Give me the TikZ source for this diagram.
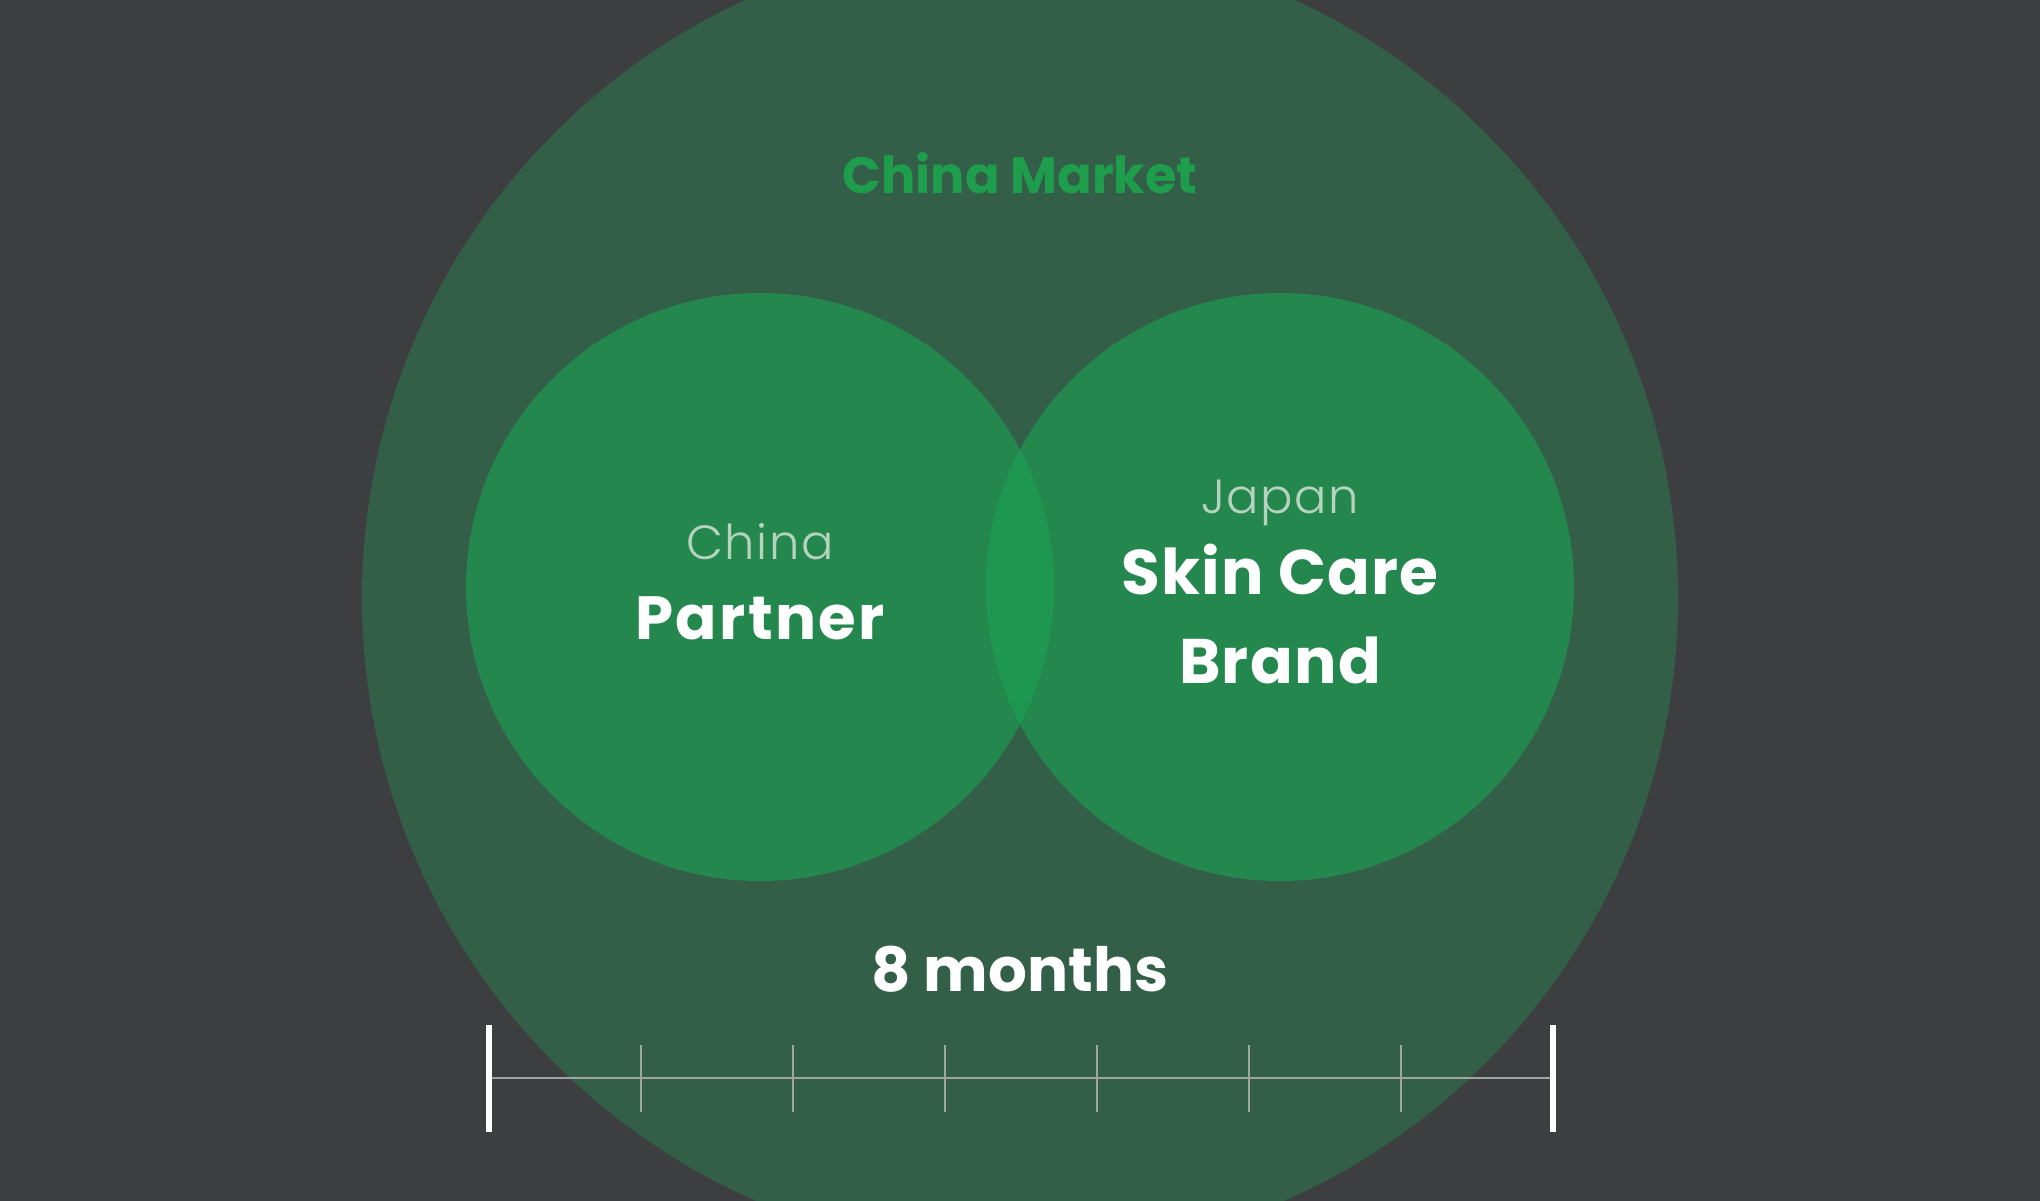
\documentclass[tikz,border=0pt]{standalone}
\usepackage{fontspec}
\setmainfont{Poppins}
\IfFontExistsTF{Poppins Light}{\newfontfamily\lightfont[LetterSpace=3]{Poppins Light}}{\newfontfamily\lightfont[LetterSpace=3]{Poppins}}
\definecolor{bg}{HTML}{3D3E40}
\definecolor{market}{HTML}{335E48}
\definecolor{inner}{HTML}{24874E}
\definecolor{overlap}{HTML}{1E9850}
\definecolor{markettext}{HTML}{1E9E4D}
\definecolor{subtext}{HTML}{B5D3BD}
\definecolor{axis}{HTML}{A0A4A2}
\tikzset{
  x=1pt, y=-1pt,
  boldlbl/.style={font=\fontsize{61}{70}\selectfont\bfseries, text=white, inner sep=0pt, anchor=base},
  lightlbl/.style={font=\lightfont\fontsize{48}{56}\selectfont, text=subtext, inner sep=0pt, anchor=base},
  ticksmall/.style={draw=axis, line width=2pt},
  tickend/.style={draw=white, line width=6pt},
}
\begin{document}
\begin{tikzpicture}
\useasboundingbox (0,0) rectangle (2040,1200);
\fill[bg] (-10,-10) rectangle (2050,1210);
\fill[market] (1020,598) circle[radius=658];
\coordinate (lc) at (760,587);
\coordinate (rc) at (1280,587);
\fill[inner] (lc) circle[radius=294];
\fill[inner] (rc) circle[radius=294];
\begin{scope}
\clip (lc) circle[radius=294];
\fill[overlap] (rc) circle[radius=294];
\end{scope}
\node[font=\fontsize{51}{60}\selectfont\bfseries, text=markettext, inner sep=0pt, anchor=base] (title) at (1020,193) {China Market};
\node[lightlbl] (china) at (760,559) {China};
\node[boldlbl, font=\fontsize{61}{70}\selectfont\bfseries\addfontfeatures{LetterSpace=4}] (partner) at (760,639) {Partner};
\node[lightlbl] (japan) at (1280,513) {Japan};
\node[boldlbl, font=\fontsize{63}{70}\selectfont\bfseries\addfontfeatures{LetterSpace=2}] (skin) at (1280,594) {Skin Care};
\node[boldlbl, font=\fontsize{63}{70}\selectfont\bfseries\addfontfeatures{LetterSpace=2}] (brand) at (1280,683) {Brand};
\node[boldlbl] (months) at (1020,991) {8 months};
\coordinate (a0) at (489,1078);
\coordinate (a8) at (1553,1078);
\draw[draw=axis, line width=2pt] (a0) -- (a8);
\foreach \i in {1,...,6} {
  \draw[ticksmall] (489+\i*152,1045) -- (489+\i*152,1112);
}
\draw[tickend] (489,1025) -- (489,1132);
\draw[tickend] (1553,1025) -- (1553,1132);
\end{tikzpicture}
\end{document}
